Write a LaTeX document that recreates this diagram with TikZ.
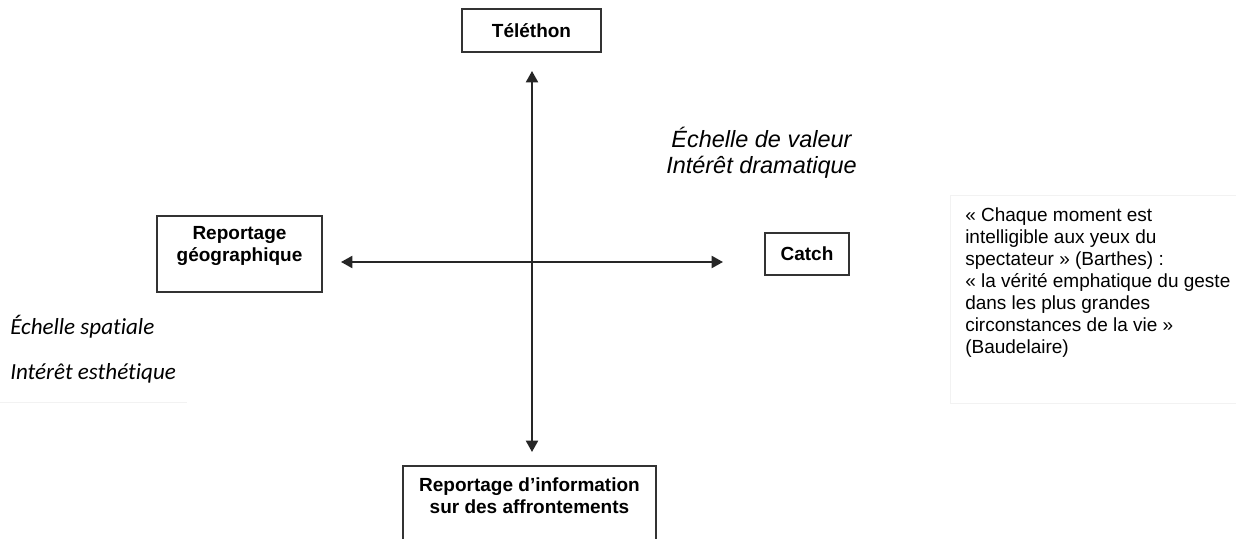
\documentclass[tikz,border=0pt]{standalone}
\usepackage{fontspec}
\setmainfont{Liberation Sans}
\newfontfamily\calibrifont[Ligatures=NoCommon]{Carlito}
\usetikzlibrary{arrows.meta}

\begin{document}
\begin{tikzpicture}[
                    x=0.75pt, y=-0.75pt,
                    box/.style={
                        draw=black!80,
                        line width=1.5pt,
                        inner sep=0pt
                    },
                    boldtext/.style={
                        font=\fontsize{14.25}{16.5}\selectfont\bfseries,
                        align=center,
                        inner sep=0pt
                    },
                    quotetext/.style={
                        font=\fontsize{14.25}{16.5}\selectfont,
                        align=left,
                        inner sep=0pt
                    },
                    scaletext/.style={
                        font=\fontsize{17.6}{19.5}\selectfont\itshape,
                        align=center,
                        inner sep=0pt
                    },
                    caltext/.style={
                        font=\calibrifont\fontsize{17.3}{20}\selectfont\itshape,
                        anchor=west,
                        inner sep=0pt
                    },
                    axis/.style={
                        draw=black!85,
                        line width=1.5pt,
                        {Triangle[length=8.5pt,width=9pt]}-{Triangle[length=8.5pt,width=9pt]}
                    }
                ]
                    \useasboundingbox (0,0) rectangle (1236,539);
                    \clip (0,0) rectangle (1236,539);

                    % faint text frames
                    \draw[black!5] (950,195) rectangle (1240,403);
                    \draw[black!5] (0,402) -- (187,402);

                    \coordinate (o) at (532,262);

                    \node[box, boldtext, minimum width=104.25pt, minimum height=32.25pt] (telethon) at (531.5,30.5) {Téléthon};
                    \node[box, minimum width=123.75pt, minimum height=57pt] (geo) at (239.5,254) {};
                    \node[boldtext] (geotext) at (239.5,246) {Reportage\\géographique};
                    \node[box, boldtext, minimum width=63pt, minimum height=31.5pt] (catch) at (807,254) {Catch};
                    \node[box, minimum width=189.75pt, minimum height=90pt, anchor=north] (affr) at (529.5,465) {};
                    \node[boldtext] (affrtext) at (529.5,496) {Reportage d’information\\sur des affrontements};

                    \node[scaletext] (valeur) at (761.5,153) {Échelle de valeur\\Intérêt dramatique};
                    \node[caltext] (spatiale) at (10,327) {Échelle spatiale};
                    \node[caltext] (esthetique) at (10,373) {Intérêt esthétique};
                    \node[quotetext, anchor=north west] (citation) at (965,207) {« Chaque moment est\\intelligible aux yeux du\\spectateur » (Barthes) :\\« la vérité emphatique du geste\\dans les plus grandes\\circonstances de la vie »\\(Baudelaire)};

                    % Edges
                    \draw[axis, shorten <=13.5pt, shorten >=9.75pt] (telethon.south -| o) -- (affr.north -| o);
                    \draw[axis, shorten <=13.5pt, shorten >=30.75pt] (geo.east |- o) -- (catch.west |- o);
                \end{tikzpicture}
\end{document}
